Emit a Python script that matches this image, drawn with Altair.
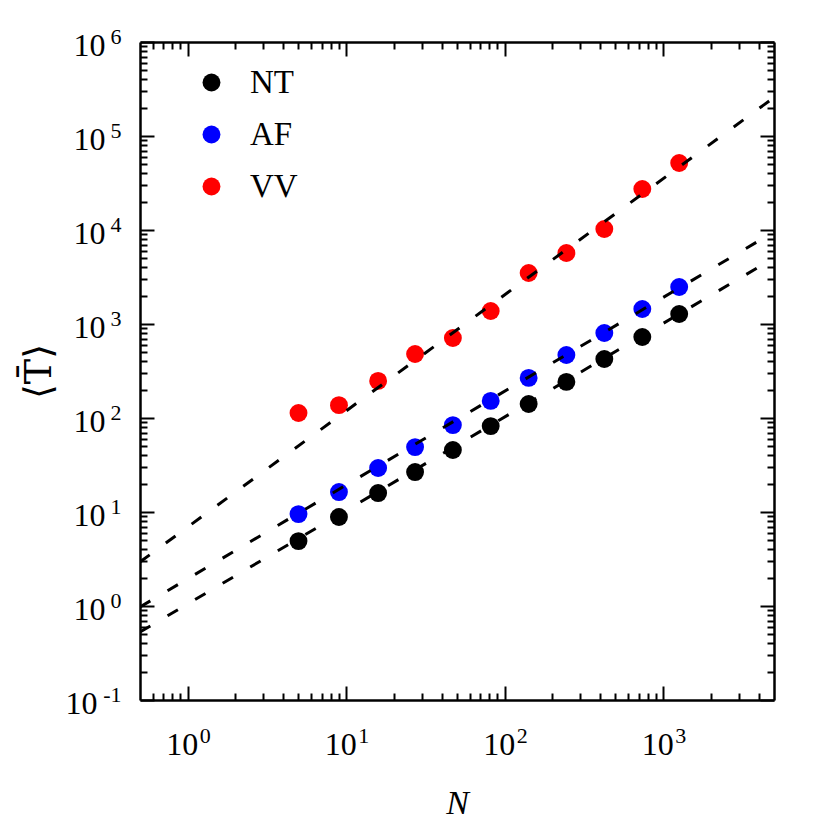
import altair as alt
import pandas as pd

# ---- data ----
N = [5.0, 9.0, 15.9, 27.2, 47.1, 81.6, 141.6, 245, 425, 738, 1261]
T_NT = [4.9, 8.85, 15.9, 26.6, 45.7, 82, 141, 242, 424, 727, 1277]
T_AF = [9.5, 16.3, 29.4, 49, 84, 152, 267, 468, 802, 1445, 2475]
T_VV = [113, 137, 248, 480, 710, 1375, 3490, 5690, 10250, 27300, 51600]
series = ["NT", "AF", "VV"]
colors = ["#000000", "#0000ff", "#ff0000"]

# dashed power-law fits (end points at the plot edges)
fit_N = [0.5, 5000]
fit_NT = [0.528, 5030]
fit_AF = [0.976, 9550]
fit_VV = [2.94, 257000]

# ticks
x_major = [1, 10, 100, 1000]
x_exp = ["0", "1", "2", "3"]
y_major = [0.1, 1, 10, 100, 1000, 10000, 100000, 1000000]
y_exp = ["-1", "0", "1", "2", "3", "4", "5", "6"]
x_minor = [0.6, 0.7, 0.8, 0.9] + [m * 10 ** k for k in range(0, 3) for m in range(2, 10)] + [2000, 3000, 4000]
y_minor = [round(m * 10.0 ** k, 6) for k in range(-1, 6) for m in range(2, 10)]

SERIF = "Liberation Serif"
W, H = 634, 658

pts = pd.DataFrame({
    "N": N * 3,
    "T": T_NT + T_AF + T_VV,
    "series": ["NT"] * len(N) + ["AF"] * len(N) + ["VV"] * len(N),
})
fits = pd.DataFrame({
    "N": fit_N * 3,
    "T": fit_NT + fit_AF + fit_VV,
    "series": ["NT"] * 2 + ["AF"] * 2 + ["VV"] * 2,
})

xs = alt.Scale(type="log", domain=[0.5, 5000], nice=False)
ys = alt.Scale(type="log", domain=[0.1, 1e6], nice=False)


def tick_axis(orient, values, size):
    return alt.Axis(orient=orient, values=values, tickSize=size, offset=-size,
                    tickWidth=2, tickColor="black", labels=False, domain=False,
                    grid=False, title=None)


def frame_axis(orient):
    return alt.Axis(orient=orient, values=[1], ticks=False, labels=False, domain=True,
                    domainColor="black", domainWidth=2.5, grid=False, title=None)


common_lab = dict(ticks=False, tickSize=0, grid=False,
                  labelFont=SERIF, labelColor="black", labelOverlap=False,
                  labelFlush=False, labelBound=False)

x_lab10 = alt.Axis(orient="bottom", values=x_major, labelExpr="'10'",
                   labelFontSize=32, labelBaseline="alphabetic", labelPadding=54,
                   labelOffset=-6, title="N", titleFont=SERIF, titleFontSize=34,
                   titleFontStyle="italic", titleFontWeight="normal", titleColor="black",
                   titleX=W / 2, titleY=113, titleBaseline="alphabetic",
                   domain=True, domainColor="black", domainWidth=2.5, **common_lab)
x_labexp = alt.Axis(orient="bottom", values=x_major,
                    labelExpr="[" + ",".join("'%s'" % e for e in x_exp) + "][round(log(datum.value)/LN10)]",
                    labelFontSize=22, labelBaseline="alphabetic", labelPadding=42,
                    labelOffset=17, title=None, domain=False, **common_lab)

y_lab10 = alt.Axis(orient="left", values=y_major, labelExpr="'10'",
                   labelFontSize=32, labelBaseline="alphabetic", labelAlign="right",
                   labelPadding={"condition": {"test": "datum.value < 0.5", "value": 43}, "value": 35},
                   labelOffset=13, title="⟨T̄⟩", titleFont="DejaVu Serif", titleFontSize=38,
                   titleFontWeight="normal", titleColor="black", titleAngle=270,
                   titleX=-90, titleY=H / 2, titleBaseline="alphabetic", titleAlign="center",
                   domain=True, domainColor="black", domainWidth=2.5, **common_lab)
y_labexp = alt.Axis(orient="left", values=y_major,
                    labelExpr="[" + ",".join("'%s'" % e for e in y_exp) + "][round(log(datum.value)/LN10)+1]",
                    labelFontSize=22, labelBaseline="alphabetic", labelAlign="right",
                    labelPadding=19, labelOffset=1, title=None, domain=False, **common_lab)

points = alt.Chart(pts).mark_circle(size=320, opacity=1).encode(
    x=alt.X("N:Q", scale=xs, axis=x_lab10),
    y=alt.Y("T:Q", scale=ys, axis=y_lab10),
    color=alt.Color("series:N", scale=alt.Scale(domain=series, range=colors),
                    legend=alt.Legend(orient="none", legendX=55, legendY=24, title=None,
                                      symbolType="circle", symbolSize=320,
                                      symbolStrokeWidth=0, labelFont=SERIF,
                                      labelFontSize=33, labelColor="black",
                                      labelOffset=22, rowPadding=18, padding=0)),
)

lines = alt.Chart(fits).mark_line(color="black", strokeWidth=3, strokeDash=[12, 20], clip=True).encode(
    x=alt.X("N:Q", scale=xs, axis=x_labexp),
    y=alt.Y("T:Q", scale=ys, axis=y_labexp),
    detail="series:N",
)


def ghost(xa, ya):
    return alt.Chart(pts).mark_point(opacity=0).encode(
        x=alt.X("N:Q", scale=xs, axis=xa),
        y=alt.Y("T:Q", scale=ys, axis=ya),
    )


g1 = ghost(tick_axis("bottom", x_major, 14), tick_axis("left", y_major, 14))
g2 = ghost(tick_axis("bottom", x_minor, 7), tick_axis("left", y_minor, 7))
g3 = ghost(tick_axis("top", x_major, 14), tick_axis("right", y_major, 14))
g4 = ghost(tick_axis("top", x_minor, 7), tick_axis("right", y_minor, 7))
g5 = ghost(frame_axis("top"), frame_axis("right"))

chart = alt.layer(points, lines, g1, g2, g3, g4, g5).resolve_axis(
    x="independent", y="independent"
).properties(
    width=W, height=H,
    autosize=alt.AutoSizeParams(type="none"),
    padding={"left": 132, "top": 34, "right": 40, "bottom": 125},
).configure_view(stroke=None).configure(background="white")

chart.save("out.html", embed_options={"renderer": "svg", "actions": False})
